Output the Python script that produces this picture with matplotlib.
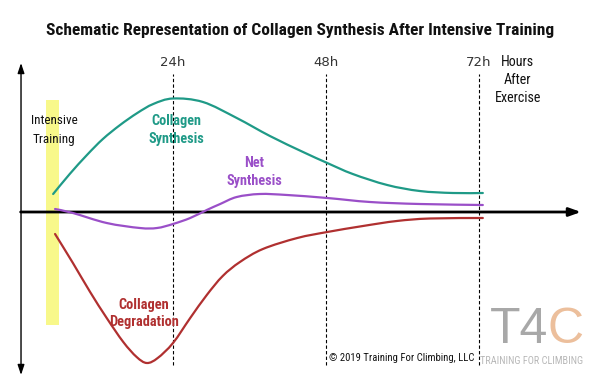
import matplotlib
matplotlib.use("Agg")
import matplotlib.pyplot as plt
from matplotlib import font_manager
from matplotlib.path import Path
from matplotlib.patches import PathPatch

# ---------------- data (hours after exercise, arbitrary response units) -------------
syn_h = [5.2, 7.8, 10.5, 13.0, 15.7, 18.4, 20.9, 24.0, 28.7, 34.0, 39.2, 44.4,
         48.2, 52.2, 57.6, 62.7, 67.9, 72.6]
syn_v = [18, 38, 57, 73, 87, 99, 108, 113.5, 110, 94, 76, 60,
         49, 38, 27, 21, 19, 19]

net_h = [5.5, 8.3, 13.6, 18.8, 21.5, 24.0, 26.7, 29.3, 31.4, 34.0, 37.6, 41.9,
         48.2, 54.9, 62.7, 72.6]
net_v = [3, -1, -11, -16, -16, -12, -6, 2, 8, 15, 18, 17,
         14, 10, 8, 7]

deg_h = [5.5, 8.3, 11.0, 13.6, 16.2, 18.3, 19.9, 21.6, 24.0, 26.7, 29.3, 31.8,
         34.5, 38.1, 43.5, 48.2, 53.8, 59.1, 64.3, 72.6]
deg_v = [-22, -51, -80, -106, -130, -145, -151, -146, -131, -106, -83, -64,
         -50, -37, -26, -20, -14, -9, -6.5, -6]

tick_hours = [24, 48, 72]
tick_labels = ["24h", "48h", "72h"]
training_window = [4.1, 6.1]

title = "Schematic Representation of Collagen Synthesis After Intensive Training"

# ---------------- fonts -------------
cond = dict(family="Liberation Sans")
ttf = font_manager.fontManager.ttflist
names = {f.name for f in ttf}
for cand in ["Liberation Sans Narrow", "Roboto Condensed", "Open Sans Condensed",
             "DejaVu Sans Condensed", "Arial Narrow"]:
    if cand in names:
        cond = dict(family=cand)
        break
else:
    if any(f.name == "DejaVu Sans" and str(f.stretch) == "condensed" for f in ttf):
        cond = dict(family="DejaVu Sans", fontstretch="condensed")

GREEN = "#1f9a87"
PURPLE = "#9a4fc8"
RED = "#b03030"

fig = plt.figure(figsize=(6, 3.9), dpi=100)
ax = fig.add_axes([0, 0, 1, 1])
ax.set_xlim(-3.137, 90.98)
ax.set_ylim(-178, 212)
ax.axis("off")
renderer = fig.canvas.get_renderer()


def smooth(xs, ys, color):
    pts = list(zip(xs, ys))
    verts = [pts[0]]
    codes = [Path.MOVETO]
    n = len(pts)
    for i in range(n - 1):
        p0 = pts[max(i - 1, 0)]
        p1 = pts[i]
        p2 = pts[i + 1]
        p3 = pts[min(i + 2, n - 1)]
        c1 = (p1[0] + (p2[0] - p0[0]) / 6, p1[1] + (p2[1] - p0[1]) / 6)
        c2 = (p2[0] - (p3[0] - p1[0]) / 6, p2[1] - (p3[1] - p1[1]) / 6)
        verts += [c1, c2, p2]
        codes += [Path.CURVE4] * 3
    ax.add_patch(PathPatch(Path(verts, codes), fc="none", ec=color, lw=1.6,
                           zorder=4, capstyle="round"))


def label(lines, cx, ys, width_px, color, weight="normal"):
    texts = [ax.text(cx, y, s, ha="center", va="center", fontsize=10, color=color,
                     fontweight=weight, **cond) for s, y in zip(lines, ys)]
    w = max(t.get_window_extent(renderer).width for t in texts)
    for t in texts:
        t.set_fontsize(10 * width_px / w)
    return texts


# training band
ax.axvspan(training_window[0], training_window[1], ymin=(-113 + 178) / 390,
           ymax=(112 + 178) / 390, color="#f8f88a", lw=0, zorder=1)

# dashed hour lines
for h in tick_hours:
    ax.plot([h, h], [-153, 138], color="black", lw=0.8, ls=(0, (3, 2)), zorder=2)
for h, lab in zip(tick_hours, tick_labels):
    ax.text(h, 149, lab, ha="center", va="center", fontsize=9.5, color="#333333",
            family="DejaVu Sans")

# axes arrows
ax.annotate("", xy=(88.0, 0), xytext=(0.1, 0),
            arrowprops=dict(arrowstyle="-|>,head_length=0.7,head_width=0.25",
                            color="black", lw=2, shrinkA=0, shrinkB=0), zorder=3)
ax.annotate("", xy=(0.16, 149), xytext=(0.16, 0),
            arrowprops=dict(arrowstyle="-|>,head_length=0.6,head_width=0.2",
                            color="black", lw=1, shrinkA=0, shrinkB=0), zorder=3)
ax.annotate("", xy=(0.16, -163), xytext=(0.16, 0),
            arrowprops=dict(arrowstyle="-|>,head_length=0.6,head_width=0.2",
                            color="black", lw=1, shrinkA=0, shrinkB=0), zorder=3)

# curves
smooth(syn_h, syn_v, GREEN)
smooth(net_h, net_v, PURPLE)
smooth(deg_h, deg_v, RED)

# labels
label(["Intensive", "Training"], 5.33, [91, 73], 46, "#111111")
label(["Collagen", "Synthesis"], 24.5, [91, 73], 56, GREEN, "bold")
label(["Net", "Synthesis"], 36.7, [49, 31], 56, PURPLE, "bold")
label(["Collagen", "Degradation"], 19.4, [-93, -110], 70, RED, "bold")
label(["Hours", "After", "Exercise"], 78.1, [150, 132, 114], 46, "#111111")
label(["\u00a9 2019 Training For Climbing, LLC"], 59.9, [-146], 145, "#111111")

tt = fig.text(0.5, 1 - 30 / 390, title, ha="center", va="center", fontsize=14,
              fontweight="bold", color="#111111", **cond)
tt.set_fontsize(14 * 510 / tt.get_window_extent(renderer).width)

# logo
ax.text(82.8, -118, "T4", ha="right", va="center", fontsize=36, color="#a8a8a8",
        family="Liberation Sans")
ax.text(82.8, -118, "C", ha="left", va="center", fontsize=36, color="#ecbf9c",
        family="Liberation Sans")
label(["TRAINING FOR CLIMBING"], 80.3, [-149], 104, "#b8b8b8")

fig.savefig("out.png", dpi=100)
